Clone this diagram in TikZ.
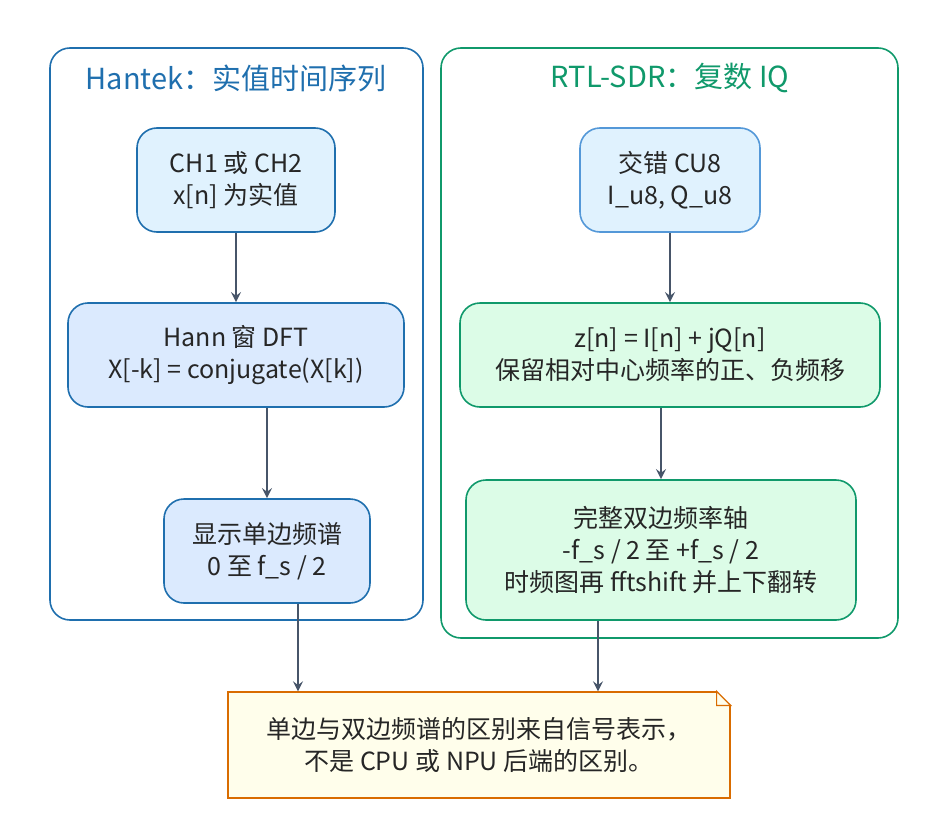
\documentclass[tikz,border=0pt]{standalone}
\usepackage{fontspec}
\setmainfont{Noto Sans CJK SC}
\usetikzlibrary{shapes.misc,calc}
\definecolor{hblue}{HTML}{1F6FAE}
\definecolor{sgreen}{HTML}{10996B}
\definecolor{arrc}{HTML}{475569}
\definecolor{skyfill}{HTML}{E0F2FE}
\definecolor{bluefill}{HTML}{DBEAFE}
\definecolor{greenfill}{HTML}{DCFCE7}
\tikzset{
  group/.style={draw, rounded corners=10pt, line width=0.8pt},
  flowbox/.style={draw, rounded corners=10pt, line width=0.8pt, align=center, font=\fontsize{12.5}{16}\selectfont, text=black!85},
  arr/.style={-stealth, draw=arrc, line width=1.2pt}
}
\begin{document}
\begin{tikzpicture}[x=0.5pt,y=-0.5pt]
\useasboundingbox (0,0) rectangle (948,830);
   % groups
   \draw[group, hblue] (50,48) rectangle (423,620);
   \node[text=hblue, font=\fontsize{14.5}{17}\selectfont] (hantek) at (236,78) {Hantek：实值时间序列};
   \draw[group, sgreen] (441,48) rectangle (898,638);
   \node[text=sgreen, font=\fontsize{14.5}{17}\selectfont] (rtl) at (670,78) {RTL-SDR：复数 IQ};

   % left column
   \node[flowbox, draw=hblue, fill=skyfill, minimum width=99pt, minimum height=52pt] (chan) at (236,180) {CH1 或 CH2\\x[n] 为实值};
   \node[flowbox, draw=hblue, fill=bluefill, minimum width=168pt, minimum height=52pt] (dft) at (236,355) {Hann 窗 DFT\\X[-k] = conjugate(X[k])};
   \node[flowbox, draw=hblue, fill=bluefill, minimum width=103pt, minimum height=52pt] (single) at (267,551) {显示单边频谱\\0 至 f\_s / 2};

   % right column
   \node[flowbox, draw=cyan!60!blue!70, fill=skyfill, minimum width=90pt, minimum height=52pt] (cu8) at (670,180) {交错 CU8\\I\_u8, Q\_u8};
   \node[flowbox, draw=sgreen, fill=greenfill, minimum width=210pt, minimum height=52pt] (iq) at (670,355) {z[n] = I[n] + jQ[n]\\保留相对中心频率的正、负频移};
   \node[flowbox, draw=sgreen, fill=greenfill, minimum width=195pt, minimum height=70pt] (double) at (661,550) {完整双边频率轴\\-f\_s / 2 至 +f\_s / 2\\时频图再 fftshift 并上下翻转};

   % note
   \node[flowbox, draw=orange!85!black, fill=yellow!8, minimum width=251pt, minimum height=53pt, rounded corners=0pt, line width=0.6pt] (note) at (479,745) {单边与双边频谱的区别来自信号表示，\\不是 CPU 或 NPU 后端的区别。};
   \fill[white] ([xshift=-7pt,yshift=0.3pt]note.north east) -- ([xshift=0.3pt,yshift=0.3pt]note.north east) -- ([xshift=0.3pt,yshift=-7pt]note.north east) -- cycle;
   \draw[orange!85!black, line width=0.6pt] ([xshift=-7pt]note.north east) -- ([xshift=-7pt,yshift=-7pt]note.north east) -- ([yshift=-7pt]note.north east) -- cycle;

   % connectors
   \draw[arr] (chan) -- (dft);
   \draw[arr] (dft.south -| single.north) -- (single.north);
   \draw[arr] ([xshift=15.5pt]single.south) -- ([xshift=15.5pt]single.south |- note.north);
   \draw[arr] (cu8) -- (iq);
   \draw[arr] (iq.south -| double.north) -- (double.north);
   \draw[arr] ([xshift=-31.5pt]double.south) -- ([xshift=-31.5pt]double.south |- note.north);
\end{tikzpicture}
\end{document}
